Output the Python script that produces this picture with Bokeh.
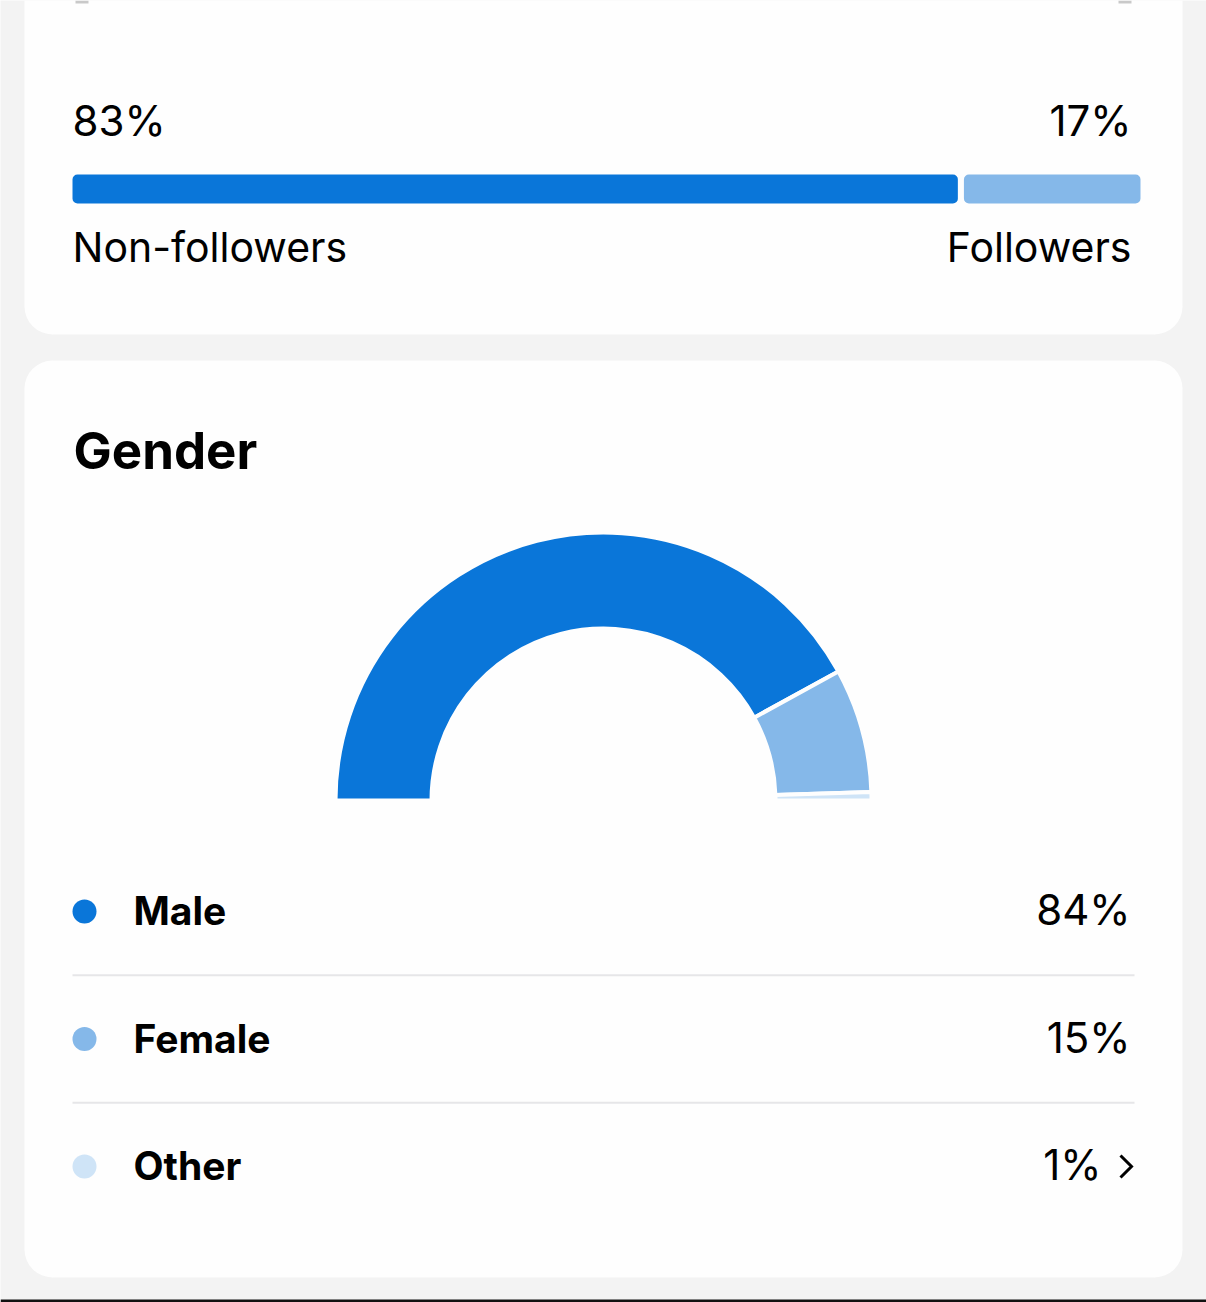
import numpy as np
from bokeh.plotting import figure
from bokeh.models import Range1d, ColumnDataSource
from bokeh.core.properties import value
from bokeh.embed import file_html
from bokeh.resources import INLINE

# ---------------- data ----------------
audience_labels = ["Non-followers", "Followers"]
audience_values = [83, 17]
audience_colors = ["#0a76d9", "#85b8e9"]

gender_title = "Gender"
gender_labels = ["Male", "Female", "Other"]
gender_values = [84, 15, 1]
gender_colors = ["#0a76d9", "#85b8e9", "#cfe4f7"]

# ---------------- canvas ----------------
W, H = 1206, 1302
FONT = value("Inter")
CARD = "#fefefe"
BG = "#f3f3f3"
TXT = "#000000"


def Y(py):
    # screenshot pixel row -> data y
    return H - np.asarray(py, dtype=float)


def BL(py, size):
    # baseline position corrected for the SVG text baseline shift
    return Y(np.asarray(py, dtype=float) - 0.4 * size)


p = figure(width=W, height=H, x_range=Range1d(0, W), y_range=Range1d(0, H),
           x_axis_type=None, y_axis_type=None, output_backend="svg",
           toolbar_location=None, min_border=0)
p.grid.visible = False
p.outline_line_color = None
p.background_fill_color = BG
p.border_fill_color = BG

# cards
p.quad(left=[24, 24], right=[1182, 1182], top=[Y(-60), Y(360)], bottom=[Y(334), Y(1277)],
       fill_color=CARD, line_color=None, border_radius=28)
# remnants of the previous block at the very top, and the bottom rule
p.quad(left=[75, 1118], right=[88, 1131], top=[Y(0), Y(0)], bottom=[Y(3), Y(3)],
       fill_color="#c9c9c9", line_color=None)
p.quad(left=[0], right=[W], top=[Y(1299)], bottom=[Y(1302)], fill_color="#111111",
       line_color=None)

# ---------------- audience split bar ----------------
# (the 6px card-coloured stroke eats 3px on every side, so the span is 3px wider)
bar_px0, bar_px1 = 69, 1143
ppu = (bar_px1 - bar_px0) / 100.0
p.extra_x_ranges = {"pct": Range1d(-bar_px0 / ppu, 100 + (W - bar_px1) / ppu)}

a_vals = np.array(audience_values, dtype=float)
a_right = np.cumsum(a_vals)
a_left = a_right - a_vals
bar_src = ColumnDataSource(dict(left=a_left, right=a_right, color=audience_colors))
p.hbar(y=float(Y(188.5)), height=35, left="left", right="right", source=bar_src,
       x_range_name="pct", fill_color="color", line_color=CARD, line_width=6,
       border_radius=8)

lab_src = ColumnDataSource(dict(
    x=[0, 100],
    pct=[f"{v}%" for v in audience_values],
    name=audience_labels,
    align=["left", "right"],
    dx=[3, -12],
))
p.text(x="x", y=float(BL(137, 42)), text="pct", source=lab_src, x_range_name="pct",
       text_align="align", x_offset="dx", text_baseline="alphabetic",
       text_font=FONT, text_font_size="42px", text_color=TXT)
p.text(x="x", y=float(BL(263, 41)), text="name", source=lab_src, x_range_name="pct",
       text_align="align", x_offset="dx", text_baseline="alphabetic",
       text_font=FONT, text_font_size="41px", text_color=TXT)

# ---------------- gender gauge ----------------
p.text(x=[73], y=[float(BL(470, 51))], text=[gender_title], text_font=FONT,
       text_font_size="51px", text_font_style="bold", text_baseline="alphabetic",
       text_color=TXT)

g = np.array(gender_values, dtype=float)
frac_end = np.cumsum(g) / g.sum()
frac_start = frac_end - g / g.sum()
wedge_src = ColumnDataSource(dict(
    start=np.pi * (1 - frac_start),
    end=np.pi * (1 - frac_end),
    color=gender_colors,
))
p.annular_wedge(x=603, y=float(Y(800)), inner_radius=172, outer_radius=268,
                start_angle="start", end_angle="end", direction="clock",
                source=wedge_src, fill_color="color", line_color=CARD, line_width=4)

# ---------------- legend rows ----------------
n = len(gender_labels)
row0, step = 911, 127.5
rows_py = np.array([row0 + i * step for i in range(n)])
right_x = [1130 if i < n - 1 else 1101 for i in range(n)]
leg_src = ColumnDataSource(dict(
    y=Y(rows_py),
    yl=BL(rows_py + 15, 39),
    yp=BL(rows_py + 15, 42),
    label=gender_labels,
    pct=[f"{v}%" for v in gender_values],
    rx=right_x,
    color=gender_colors,
))
p.scatter(x=84, y="y", size=24, marker="circle", fill_color="color", line_color=None,
          source=leg_src)
p.text(x=133, y="yl", text="label", source=leg_src, text_font=FONT,
       text_font_size="39px", text_font_style="bold", text_baseline="alphabetic",
       text_color=TXT)
p.text(x="rx", y="yp", text="pct", source=leg_src, text_font=FONT,
       text_font_size="42px", text_align="right", text_baseline="alphabetic",
       text_color=TXT)

# separators between rows
sep_py = rows_py[:-1] + step / 2
p.segment(x0=72, x1=1134, y0=Y(sep_py), y1=Y(sep_py), line_color="#e6e6e8", line_width=2)

# chevron on the last row
cy = rows_py[-1]
p.line(x=[1120, 1131, 1120], y=[float(Y(cy - 11)), float(Y(cy)), float(Y(cy + 11))],
       line_color=TXT, line_width=3, line_join="miter")

open("out.html", "w").write(file_html(p, INLINE))
